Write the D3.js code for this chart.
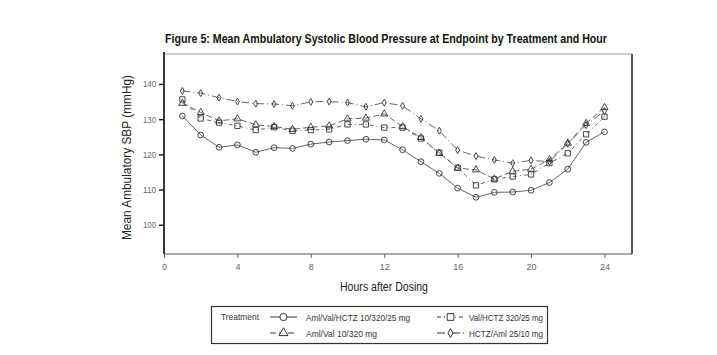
<!DOCTYPE html>
<html><head><meta charset="utf-8">
<script src="https://cdn.jsdelivr.net/npm/d3@7"></script>
<style>body{margin:0;background:#fff;} svg{display:block;}</style>
</head><body>
<svg id="c" width="717" height="355"></svg>
<script>
const hours = [1,2,3,4,5,6,7,8,9,10,11,12,13,14,15,16,17,18,19,20,21,22,23,24];
const amlValHctz = [130.9,125.5,122.0,122.7,120.6,121.9,121.7,122.9,123.5,123.9,124.3,124.1,121.3,117.9,114.6,110.4,107.8,109.2,109.3,109.8,112.0,115.8,123.4,126.4];
const amlVal     = [134.5,131.9,129.5,130.1,128.4,127.9,127.1,127.7,128.1,130.1,130.3,131.5,127.9,124.8,120.3,116.1,115.6,113.0,115.2,115.8,118.5,123.2,128.8,133.3];
const valHctz    = [135.6,130.2,129.0,128.1,126.9,127.7,126.7,126.9,127.1,128.5,128.5,127.6,127.6,124.5,120.5,116.2,111.2,112.9,113.7,114.3,117.5,120.3,125.7,130.7];
const hctzAml    = [138.0,137.4,136.1,135.0,134.4,134.3,133.8,134.9,135.0,134.7,133.5,134.7,133.8,130.1,126.7,121.2,119.5,118.4,117.5,118.3,117.9,123.0,128.3,132.3];
const seriesNames = ["Aml/Val/HCTZ 10/320/25 mg","Aml/Val 10/320 mg","Val/HCTZ 320/25 mg","HCTZ/Aml 25/10 mg"];
const xTicks = [0,4,8,12,16,20,24];
const yTicks = [100,110,120,130,140];
const titleText = "Figure 5: Mean Ambulatory Systolic Blood Pressure at Endpoint by Treatment and Hour";

const svg = d3.select("#c");
const L=164, R=632, T=54, B=254;
const x = d3.scaleLinear().domain([0,25.5]).range([L,R]);
const y = d3.scaleLinear().domain([91.7,148.5]).range([B,T]);
const ff = "'Liberation Sans',Arial,sans-serif";

const series = [
  {name:seriesNames[0], vals:amlValHctz, sym:d3.symbolCircle, size:26, dash:null, tl:104},
  {name:seriesNames[1], vals:amlVal, sym:d3.symbolTriangle, size:22, dash:"6,3", tl:71},
  {name:seriesNames[2], vals:valHctz, sym:d3.symbolSquare, size:28, dash:"4,3,1,3", tl:74},
  {name:seriesNames[3], vals:hctzAml, sym:d3.symbolDiamond, size:14, dash:"8,3,1,3", tl:74}
];

// title
svg.append("text").attr("x",386).attr("y",43).attr("text-anchor","middle")
  .attr("font-family",ff).attr("font-weight","bold")
  .attr("font-size",13).attr("fill","#111")
  .attr("textLength",442).attr("lengthAdjust","spacingAndGlyphs").text(titleText);

// frame
svg.append("line").attr("x1",L).attr("x2",R).attr("y1",T).attr("y2",T).attr("stroke","#999").attr("stroke-width",1);
svg.append("line").attr("x1",L).attr("x2",R).attr("y1",B).attr("y2",B).attr("stroke","#555").attr("stroke-width",1);
svg.append("line").attr("x1",R).attr("x2",R).attr("y1",T).attr("y2",B).attr("stroke","#222").attr("stroke-width",1.5);

// axes
const yAxis = d3.axisLeft(y).tickValues(yTicks).tickSize(5).tickPadding(3);
const gy = svg.append("g").attr("transform",`translate(${L},0)`).call(yAxis);
gy.select(".domain").remove();
gy.selectAll(".tick line").attr("stroke","#222").attr("stroke-width",1.5);
gy.selectAll(".tick text").attr("font-family",ff).attr("font-size",9).attr("fill","#666")
  .attr("textLength",13).attr("lengthAdjust","spacingAndGlyphs");
svg.append("line").attr("x1",L).attr("x2",L).attr("y1",T-2).attr("y2",B).attr("stroke","#222").attr("stroke-width",1.8);

const xAxis = d3.axisBottom(x).tickValues(xTicks).tickSize(4).tickPadding(6);
const gx = svg.append("g").attr("transform",`translate(0,${B})`).call(xAxis);
gx.select(".domain").remove();
gx.selectAll(".tick line").attr("stroke","#666");
gx.selectAll(".tick text").attr("font-family",ff).attr("font-size",9).attr("fill","#666");

// axis titles
svg.append("text").attr("x",384).attr("y",291).attr("text-anchor","middle")
  .attr("font-family",ff).attr("font-size",12.5).attr("fill","#222")
  .attr("textLength",88).attr("lengthAdjust","spacingAndGlyphs")
  .text("Hours after Dosing");
svg.append("text").attr("transform","translate(131,157.5) rotate(-90)").attr("text-anchor","middle")
  .attr("font-family",ff).attr("font-size",12.5).attr("fill","#222")
  .attr("textLength",165).attr("lengthAdjust","spacingAndGlyphs")
  .text("Mean Ambulatory SBP (mmHg)");

// lines + markers
const line = d3.line().x((d,i)=>x(hours[i])).y(d=>y(d));
series.forEach(s=>{
  svg.append("path").datum(s.vals).attr("d",line).attr("fill","none")
    .attr("stroke","#555").attr("stroke-width",0.9).attr("stroke-dasharray",s.dash);
  svg.append("g").selectAll("path").data(s.vals).join("path")
    .attr("d",d3.symbol().type(s.sym).size(s.size))
    .attr("transform",(d,i)=>`translate(${x(hours[i])},${y(d)})`)
    .attr("fill","none").attr("stroke","#333").attr("stroke-width",0.9);
});

// legend
const lg = svg.append("g");
lg.append("rect").attr("x",211.5).attr("y",306.5).attr("width",336).attr("height",37)
  .attr("fill","none").attr("stroke","#333").attr("stroke-width",1.2);
lg.append("text").attr("x",221).attr("y",320).attr("font-family",ff).attr("font-size",9.5).attr("fill","#333")
  .attr("textLength",38).attr("lengthAdjust","spacingAndGlyphs").text("Treatment");
const pos = [[270,317],[270,333],[437,317],[437,333]];
series.forEach((s,i)=>{
  const [px,py]=pos[i];
  lg.append("line").attr("x1",px).attr("x2",px+27).attr("y1",py).attr("y2",py)
    .attr("stroke","#333").attr("stroke-width",1).attr("stroke-dasharray",s.dash);
  lg.append("path").attr("d",d3.symbol().type(s.sym).size(s.size*1.6)())
    .attr("transform",`translate(${px+13.5},${py})`).attr("fill","#fff").attr("stroke","#333").attr("stroke-width",1);
  lg.append("text").attr("x",i<2?306:469).attr("y",py+3.5).attr("font-family",ff).attr("font-size",9.5).attr("fill","#333")
    .attr("textLength",s.tl).attr("lengthAdjust","spacingAndGlyphs").text(s.name);
});
</script>
</body></html>
